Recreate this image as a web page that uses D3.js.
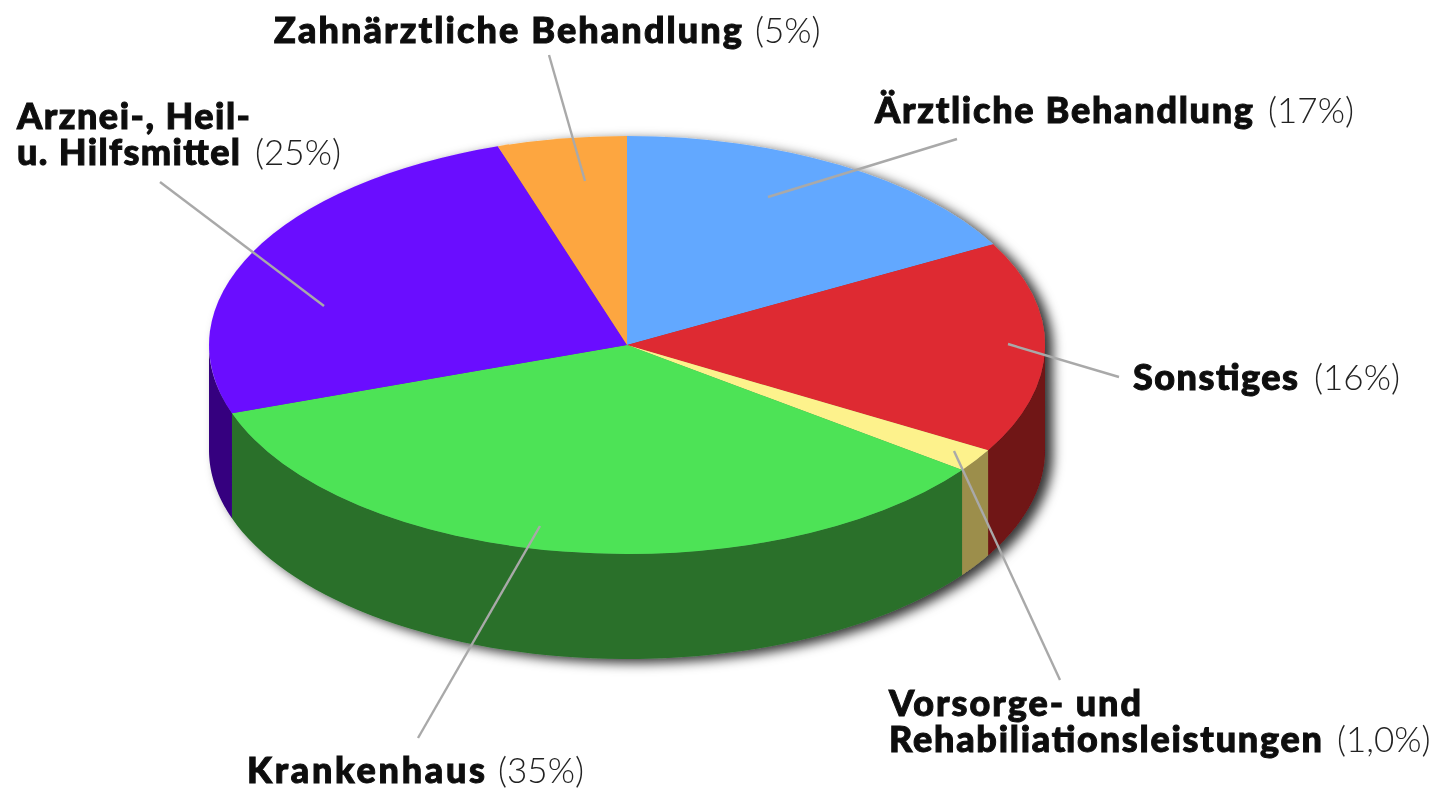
<!DOCTYPE html>
<html>
<head>
<meta charset="utf-8">
<script src="https://cdn.jsdelivr.net/npm/d3@7"></script>
<style>
html, body { margin: 0; background: #fff; }
svg { display: block; }
.name { font-family: Lato, sans-serif; font-weight: 900; fill: #0b0b0b; stroke: #0b0b0b; stroke-width: 1px; }
.pct { font-family: Lato, sans-serif; font-weight: 300; fill: #222; }
</style>
</head>
<body>
<div id="chart"></div>
<script>
var width = 1437,
  height = 790;

// slice sizes (the printed labels round them differently)
var categories = ['Ärztliche Behandlung', 'Sonstiges', 'Vorsorge- und Rehabiliationsleistungen', 'Krankenhaus', 'Arznei-, Heil- u. Hilfsmittel', 'Zahnärztliche Behandlung'];
var shares = [17.0, 16.4, 1.8, 34.5, 25.3, 5.0];
var topColors = ['#62a8ff', '#de2a30', '#fdf28c', '#4de357', '#6a0dff', '#fda640'];
var sideColors = ['#3a6496', '#6f1214', '#9c8e4c', '#29702b', '#35067f', '#96622a'];

// label rows: [bold text, light text]
var labelRows = [
  [['Ärztliche Behandlung', '(17%)']],
  [['Sonstiges', '(16%)']],
  [['Vorsorge- und', ''], ['Rehabiliationsleistungen', '(1,0%)']],
  [['Krankenhaus', '(35%)']],
  [['Arznei-, Heil-', ''], ['u. Hilfsmittel', '(25%)']],
  [['Zahnärztliche Behandlung', '(5%)']]
];

// where each label sits and where its leader runs
var labelX = [875, 1133, 889, 247, 17, 274];
var labelY = [123, 390, 716, 783, 129, 43];
var rowWidths = [[378], [165], [252, 433], [238], [233, 223], [468]];
var pctX = [1268, 1314, 1337, 498, 255, 755];
var leaderFrom = [[957, 139], [1119, 377], [1060, 680], [418, 738], [160, 182], [549, 55]];
var leaderTo = [[768, 197], [1008, 344], [954, 451], [540, 526], [324, 306], [585, 181]];

var cx = 627,
  cy = 345,
  rx = 418,
  ry = 209,
  depth = 105,
  fontSize = 36,
  pctSize = 35,
  rowGap = 36;

var svg = d3.select('#chart').append('svg')
  .attr('width', width)
  .attr('height', height);

var defs = svg.append('defs');

var shadow = defs.append('filter')
  .attr('id', 'shadow')
  .attr('x', '-10%').attr('y', '-10%')
  .attr('width', '120%').attr('height', '120%');
shadow.append('feDropShadow')
  .attr('dx', 8).attr('dy', 4)
  .attr('stdDeviation', 6)
  .attr('flood-color', '#000')
  .attr('flood-opacity', 0.8);

// the source is a soft, slightly blurred image
defs.append('filter')
  .attr('id', 'soft')
  .attr('x', '-5%').attr('y', '-20%')
  .attr('width', '110%').attr('height', '140%')
  .append('feGaussianBlur')
  .attr('stdDeviation', 0.6);

var slices = d3.pie().sort(null)(shares);

var x = d3.scaleLinear().domain([-1, 1]).range([cx - rx, cx + rx]);
var y = d3.scaleLinear().domain([-1, 1]).range([cy - ry, cy + ry]);

var pie = svg.append('g').attr('filter', 'url(#shadow)');

// the side wall, only the front half of the rim shows
var rim = d3.line()
  .x(function(d) { return x(Math.sin(d[0])); })
  .y(function(d) { return y(-Math.cos(d[0])) + d[1]; });

function wall(d) {
  var a0 = Math.max(d.startAngle, Math.PI / 2),
    a1 = Math.min(d.endAngle, Math.PI * 1.5);
  if (a1 <= a0) return null;
  var angles = d3.range(0, 61).map(function(i) { return a0 + (a1 - a0) * i / 60; });
  var pts = angles.map(function(a) { return [a, 0]; })
    .concat(angles.slice().reverse().map(function(a) { return [a, depth]; }));
  return rim(pts) + 'Z';
}

pie.selectAll('.wall')
  .data(slices)
  .enter().append('path').classed('wall', true)
  .attr('d', wall)
  .attr('fill', function(d, i) { return sideColors[i]; });

var arc = d3.arc().innerRadius(0).outerRadius(1);

pie.append('g')
  .attr('transform', 'translate(' + cx + ',' + cy + ') scale(' + rx + ',' + ry + ')')
  .selectAll('.slice')
  .data(slices)
  .enter().append('path').classed('slice', true)
  .attr('d', arc)
  .attr('fill', function(d, i) { return topColors[i]; });

svg.selectAll('.leader')
  .data(categories)
  .enter().append('line').classed('leader', true)
  .attr('x1', function(d, i) { return leaderFrom[i][0]; })
  .attr('y1', function(d, i) { return leaderFrom[i][1]; })
  .attr('x2', function(d, i) { return leaderTo[i][0]; })
  .attr('y2', function(d, i) { return leaderTo[i][1]; })
  .attr('stroke', '#a9a9a9')
  .attr('stroke-width', 2.4);

var labels = svg.append('g').attr('filter', 'url(#soft)');

labelRows.forEach(function(rows, i) {
  rows.forEach(function(row, j) {
    var rowY = labelY[i] + j * rowGap;
    labels.append('text')
      .attr('class', 'name')
      .attr('x', labelX[i])
      .attr('y', rowY)
      .attr('font-size', fontSize)
      .attr('textLength', rowWidths[i][j])
      .attr('lengthAdjust', 'spacing')
      .text(row[0]);
    if (row[1]) {
      labels.append('text')
        .attr('class', 'pct')
        .attr('x', pctX[i])
        .attr('y', rowY)
        .attr('font-size', pctSize)
        .text(row[1]);
    }
  });
});
</script>
</body>
</html>
